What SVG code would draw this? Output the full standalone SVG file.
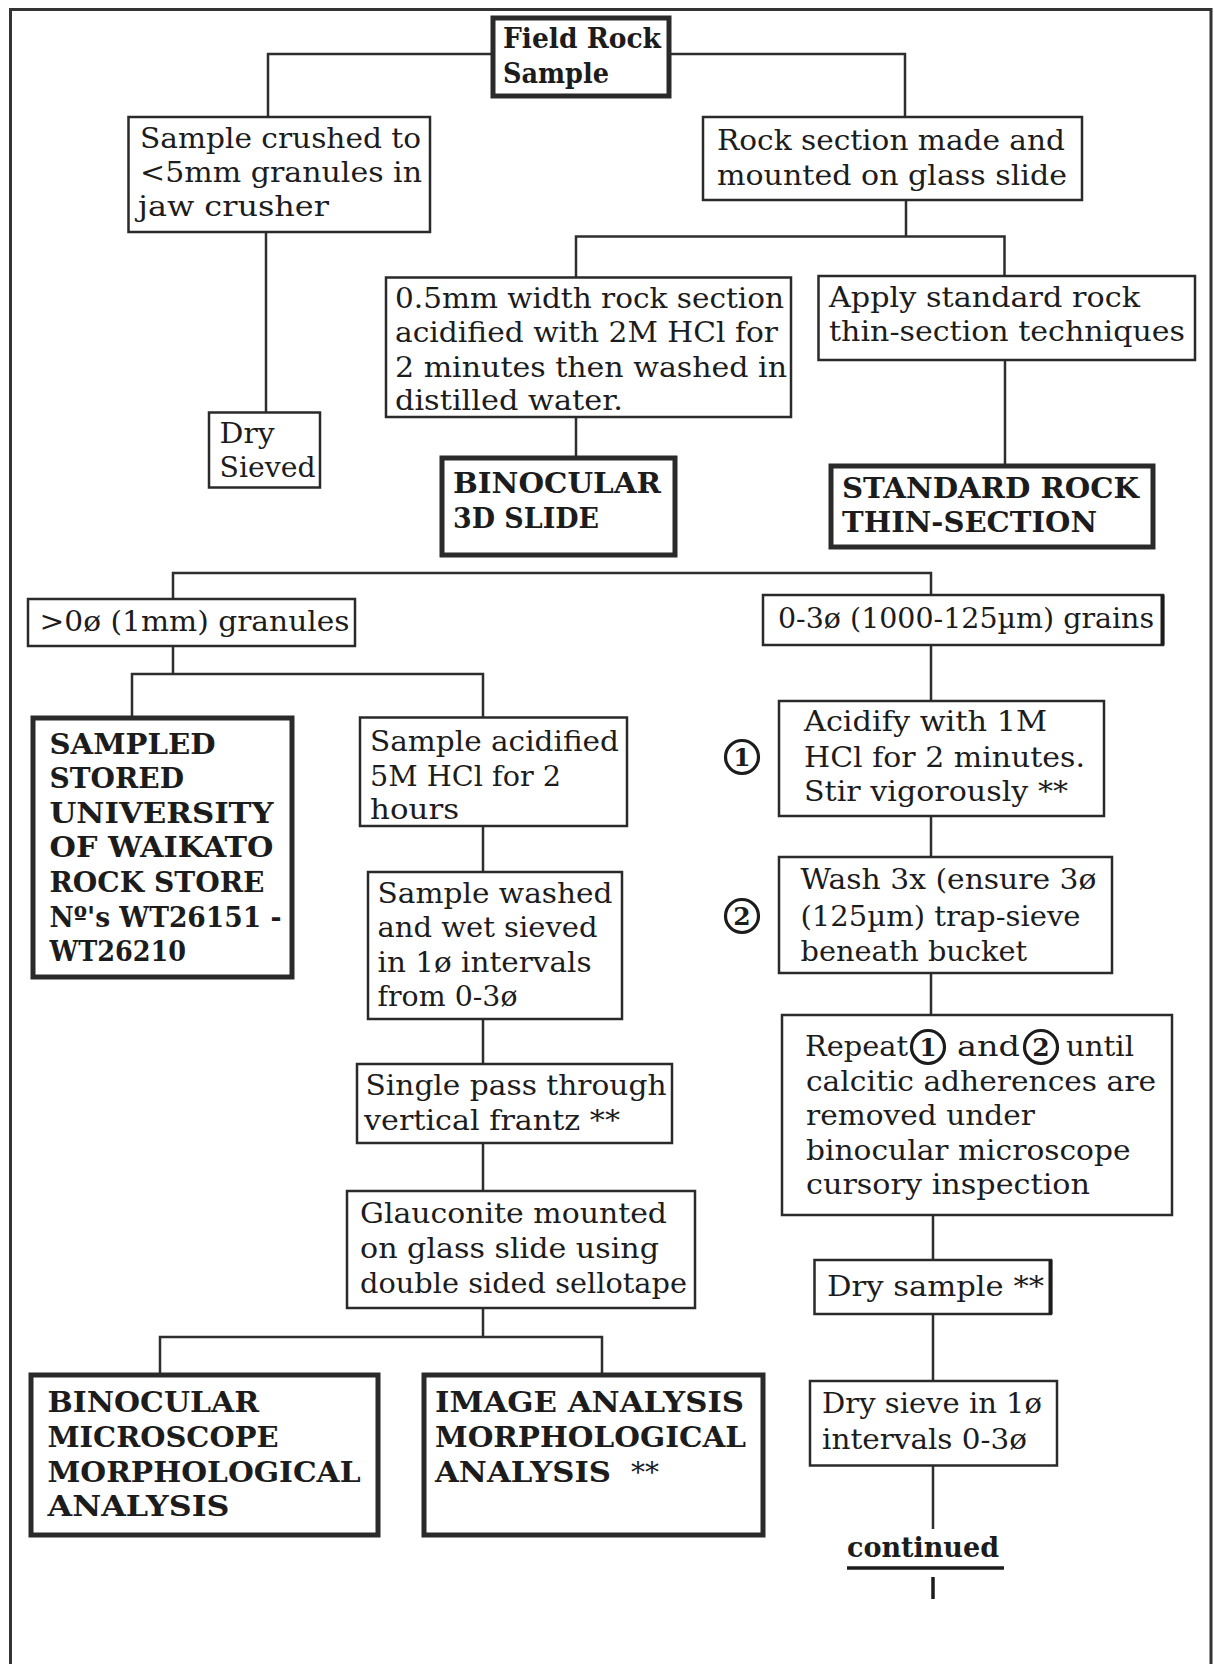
<svg xmlns="http://www.w3.org/2000/svg" width="1214" height="1664" viewBox="0 0 1214 1664">
<style>
.t{font-family:"DejaVu Serif","Liberation Serif",serif;font-size:27px;fill:#1c1c1c}
.b{font-family:"DejaVu Serif","Liberation Serif",serif;font-size:28px;font-weight:bold;fill:#1c1c1c}
.box{fill:#fff;stroke:#2a2a2a;stroke-width:2.5}
.thick{fill:#fff;stroke:#2a2a2a;stroke-width:5}
.c{fill:none;stroke:#2e2e2e;stroke-width:2.5}
.ring{fill:none;stroke:#1c1c1c;stroke-width:3.2}
.num{font-family:"DejaVu Serif","Liberation Serif",serif;font-size:25px;font-weight:bold;fill:#1c1c1c}
</style>
<rect width="1214" height="1664" fill="#fff"/>
<path d="M10.5,1664 V9.5 H1211 V1664" fill="none" stroke="#333" stroke-width="3"/>

<g id="connectors">
<path class="c" d="M491,54 H268 V117 M671,54 H905 V117"/>
<path class="c" d="M266,232 V412"/>
<path class="c" d="M906,200 V236.5 M576,277 V236.5 H1004.5 V276"/>
<path class="c" d="M576,417 V457"/>
<path class="c" d="M1005,360 V465"/>
<path class="c" d="M173,599 V573 H931 V595"/>
<path class="c" d="M173,646 V674 M132,717 V674 H483 V717"/>
<path class="c" d="M483,826 V872 M483,1019 V1064 M483,1143 V1191 M483,1308 V1337 M160,1374 V1337 H602 V1374"/>
<path class="c" d="M931,645 V701 M931,816 V857 M931,973 V1015 M933,1215 V1260 M933,1314 V1381 M933,1465 V1529"/>
<path d="M933,1577 V1599" stroke="#1c1c1c" stroke-width="3.5"/>
</g>

<g id="field-rock">
<rect class="thick" x="493" y="18" width="176" height="78"/>
<text class="b" x="503" y="48" textLength="158" lengthAdjust="spacingAndGlyphs">Field Rock</text>
<text class="b" x="503" y="83" textLength="106" lengthAdjust="spacingAndGlyphs">Sample</text>
</g>

<g id="sample-crushed">
<rect class="box" x="128.5" y="117" width="301.5" height="115"/>
<text class="t" x="140" y="148" textLength="281" lengthAdjust="spacingAndGlyphs">Sample crushed to</text>
<text class="t" x="140" y="182" textLength="282" lengthAdjust="spacingAndGlyphs">&lt;5mm granules in</text>
<text class="t" x="138" y="216" textLength="191" lengthAdjust="spacingAndGlyphs">jaw  crusher</text>
</g>

<g id="rock-section">
<rect class="box" x="703" y="117" width="379" height="83"/>
<text class="t" x="717" y="150" textLength="348" lengthAdjust="spacingAndGlyphs">Rock section made and</text>
<text class="t" x="717" y="185" textLength="350" lengthAdjust="spacingAndGlyphs">mounted on glass slide</text>
</g>

<g id="acidified-section">
<rect class="box" x="386" y="277.5" width="405" height="139.5"/>
<text class="t" x="395" y="308" textLength="389" lengthAdjust="spacingAndGlyphs">0.5mm width rock section</text>
<text class="t" x="395" y="342" textLength="383" lengthAdjust="spacingAndGlyphs">acidified with 2M HCl for</text>
<text class="t" x="395" y="377" textLength="392" lengthAdjust="spacingAndGlyphs">2 minutes then washed in</text>
<text class="t" x="395" y="410" textLength="228" lengthAdjust="spacingAndGlyphs">distilled water.</text>
</g>

<g id="apply-standard">
<rect class="box" x="818.5" y="276" width="376.5" height="84"/>
<text class="t" x="829" y="307" textLength="311" lengthAdjust="spacingAndGlyphs">Apply standard rock</text>
<text class="t" x="829" y="341" textLength="356" lengthAdjust="spacingAndGlyphs">thin-section techniques</text>
</g>

<g id="dry-sieved">
<rect class="box" x="209" y="412.5" width="111" height="75"/>
<text class="t" x="219.5" y="443" textLength="55" lengthAdjust="spacingAndGlyphs">Dry</text>
<text class="t" x="219.5" y="477" textLength="96" lengthAdjust="spacingAndGlyphs">Sieved</text>
</g>

<g id="binocular-3d">
<rect class="thick" x="442" y="458" width="233" height="97"/>
<text class="b" x="453" y="493" textLength="208" lengthAdjust="spacingAndGlyphs">BINOCULAR</text>
<text class="b" x="453" y="528" textLength="146" lengthAdjust="spacingAndGlyphs">3D SLIDE</text>
</g>

<g id="standard-rock">
<rect class="thick" x="831" y="466" width="322" height="81"/>
<text class="b" x="842" y="498" textLength="297" lengthAdjust="spacingAndGlyphs">STANDARD ROCK</text>
<text class="b" x="842" y="532" textLength="255" lengthAdjust="spacingAndGlyphs">THIN-SECTION</text>
</g>

<g id="granules">
<rect class="box" x="28" y="599" width="327" height="47"/>
<text class="t" x="39.5" y="631" textLength="310" lengthAdjust="spacingAndGlyphs">&gt;0ø (1mm) granules</text>
</g>

<g id="grains">
<rect class="box" x="763" y="595" width="400" height="50"/>
<path d="M1162.5,595 V645" stroke="#1c1c1c" stroke-width="4"/>
<text class="t" x="778" y="627.5" textLength="376" lengthAdjust="spacingAndGlyphs">0-3ø (1000-125µm) grains</text>
</g>

<g id="sampled-stored">
<rect class="thick" x="33" y="718" width="259" height="259"/>
<text class="b" x="49.5" y="753.5" textLength="166" lengthAdjust="spacingAndGlyphs">SAMPLED</text>
<text class="b" x="49.5" y="788" textLength="134.5" lengthAdjust="spacingAndGlyphs">STORED</text>
<text class="b" x="49.5" y="822.5" textLength="224" lengthAdjust="spacingAndGlyphs">UNIVERSITY</text>
<text class="b" x="49.5" y="857" textLength="224" lengthAdjust="spacingAndGlyphs">OF WAIKATO</text>
<text class="b" x="49.5" y="892" textLength="215" lengthAdjust="spacingAndGlyphs">ROCK STORE</text>
<text class="b" x="49.5" y="926.5" textLength="232" lengthAdjust="spacingAndGlyphs">Nº's WT26151 -</text>
<text class="b" x="49.5" y="961" textLength="136.5" lengthAdjust="spacingAndGlyphs">WT26210</text>
</g>

<g id="sample-acidified">
<rect class="box" x="360" y="717.5" width="267" height="108.5"/>
<text class="t" x="370" y="750.5" textLength="249" lengthAdjust="spacingAndGlyphs">Sample acidified</text>
<text class="t" x="370" y="785.5" textLength="191" lengthAdjust="spacingAndGlyphs">5M HCl for 2</text>
<text class="t" x="370" y="818.5" textLength="89" lengthAdjust="spacingAndGlyphs">hours</text>
</g>

<g id="sample-washed">
<rect class="box" x="368" y="872" width="254" height="147"/>
<text class="t" x="377.5" y="902.5" textLength="235" lengthAdjust="spacingAndGlyphs">Sample washed</text>
<text class="t" x="377.5" y="937" textLength="220" lengthAdjust="spacingAndGlyphs">and wet sieved</text>
<text class="t" x="377.5" y="972" textLength="214" lengthAdjust="spacingAndGlyphs">in 1ø intervals</text>
<text class="t" x="377.5" y="1006" textLength="140" lengthAdjust="spacingAndGlyphs">from 0-3ø</text>
</g>

<g id="single-pass">
<rect class="box" x="357" y="1064" width="315" height="79"/>
<text class="t" x="365.5" y="1095" textLength="301" lengthAdjust="spacingAndGlyphs">Single pass through</text>
<text class="t" x="364" y="1130" textLength="256" lengthAdjust="spacingAndGlyphs">vertical frantz **</text>
</g>

<g id="glauconite">
<rect class="box" x="347" y="1191" width="348" height="117"/>
<text class="t" x="360" y="1223" textLength="307" lengthAdjust="spacingAndGlyphs">Glauconite mounted</text>
<text class="t" x="360" y="1258" textLength="299" lengthAdjust="spacingAndGlyphs">on glass slide using</text>
<text class="t" x="360" y="1293" textLength="327" lengthAdjust="spacingAndGlyphs">double sided sellotape</text>
</g>

<g id="binocular-microscope">
<rect class="thick" x="31" y="1375" width="347" height="160"/>
<text class="b" x="47.5" y="1411.5" textLength="211.5" lengthAdjust="spacingAndGlyphs">BINOCULAR</text>
<text class="b" x="47.5" y="1447" textLength="231" lengthAdjust="spacingAndGlyphs">MICROSCOPE</text>
<text class="b" x="47.5" y="1481.5" textLength="313" lengthAdjust="spacingAndGlyphs">MORPHOLOGICAL</text>
<text class="b" x="47.5" y="1516" textLength="182" lengthAdjust="spacingAndGlyphs">ANALYSIS</text>
</g>

<g id="image-analysis">
<rect class="thick" x="424" y="1375" width="339" height="160"/>
<text class="b" x="435" y="1411.5" textLength="309" lengthAdjust="spacingAndGlyphs">IMAGE ANALYSIS</text>
<text class="b" x="435" y="1447" textLength="311" lengthAdjust="spacingAndGlyphs">MORPHOLOGICAL</text>
<text class="b" x="435" y="1481.5" textLength="176" lengthAdjust="spacingAndGlyphs">ANALYSIS</text>
<text class="t" x="631" y="1481.5" textLength="28" lengthAdjust="spacingAndGlyphs">**</text>
</g>

<g id="acidify">
<rect class="box" x="779" y="701" width="325" height="115"/>
<text class="t" x="804" y="731" textLength="243" lengthAdjust="spacingAndGlyphs">Acidify with 1M</text>
<text class="t" x="804" y="767" textLength="281" lengthAdjust="spacingAndGlyphs">HCl for 2 minutes.</text>
<text class="t" x="804" y="800.5" textLength="264" lengthAdjust="spacingAndGlyphs">Stir vigorously **</text>
<circle class="ring" cx="742" cy="757" r="16.5"/>
<text class="num" x="742" y="766" text-anchor="middle">1</text>
</g>

<g id="wash">
<rect class="box" x="779" y="857" width="333" height="116"/>
<text class="t" x="800.5" y="889" textLength="296" lengthAdjust="spacingAndGlyphs">Wash 3x (ensure 3ø</text>
<text class="t" x="800.5" y="925.5" textLength="280" lengthAdjust="spacingAndGlyphs">(125µm) trap-sieve</text>
<text class="t" x="800.5" y="960.5" textLength="226.5" lengthAdjust="spacingAndGlyphs">beneath bucket</text>
<circle class="ring" cx="742" cy="916" r="16.5"/>
<text class="num" x="742" y="925" text-anchor="middle">2</text>
</g>

<g id="repeat">
<rect class="box" x="782" y="1015" width="390" height="200"/>
<text class="t" x="805" y="1056" textLength="103" lengthAdjust="spacingAndGlyphs">Repeat</text>
<circle class="ring" cx="928" cy="1047" r="16.5"/>
<text class="num" x="928" y="1056" text-anchor="middle">1</text>
<text class="t" x="957" y="1056" textLength="63" lengthAdjust="spacingAndGlyphs">and</text>
<circle class="ring" cx="1041" cy="1047" r="16.5"/>
<text class="num" x="1041" y="1056" text-anchor="middle">2</text>
<text class="t" x="1066" y="1056" textLength="68" lengthAdjust="spacingAndGlyphs">until</text>
<text class="t" x="806" y="1090.5" textLength="350" lengthAdjust="spacingAndGlyphs">calcitic adherences are</text>
<text class="t" x="806" y="1125" textLength="229" lengthAdjust="spacingAndGlyphs">removed under</text>
<text class="t" x="806" y="1159.5" textLength="324.5" lengthAdjust="spacingAndGlyphs">binocular microscope</text>
<text class="t" x="806" y="1194" textLength="284" lengthAdjust="spacingAndGlyphs">cursory inspection</text>
</g>

<g id="dry-sample">
<rect class="box" x="814.5" y="1260" width="236.5" height="54"/>
<path d="M1050.5,1260 V1314" stroke="#1c1c1c" stroke-width="4"/>
<text class="t" x="827" y="1296" textLength="217" lengthAdjust="spacingAndGlyphs">Dry sample **</text>
</g>

<g id="dry-sieve">
<rect class="box" x="810" y="1381" width="247" height="84.5"/>
<text class="t" x="822" y="1413" textLength="220" lengthAdjust="spacingAndGlyphs">Dry sieve in 1ø</text>
<text class="t" x="822" y="1448.5" textLength="205" lengthAdjust="spacingAndGlyphs">intervals 0-3ø</text>
</g>

<g id="continued">
<text class="b" x="847" y="1557" textLength="152" lengthAdjust="spacingAndGlyphs">continued</text>
<path d="M847,1568 H1004" stroke="#1c1c1c" stroke-width="3.5"/>
</g>
</svg>
